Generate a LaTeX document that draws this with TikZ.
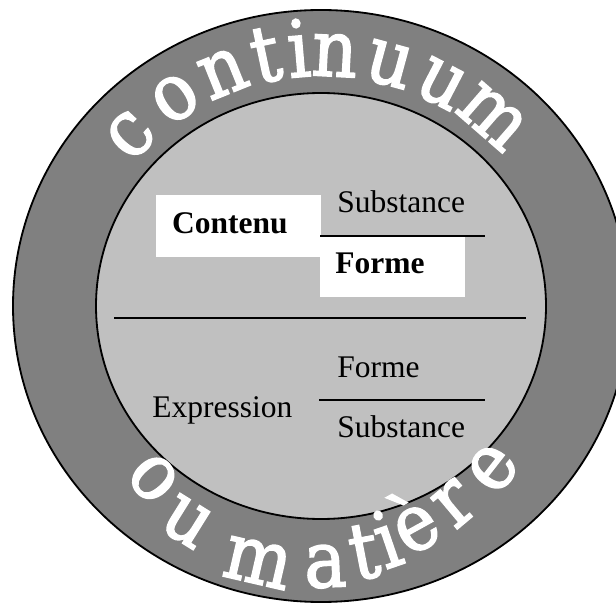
\documentclass[tikz,border=0pt]{standalone}
\usepackage{fontspec}
\setmainfont{Liberation Serif}
\newfontfamily\ringfont[FakeBold=2]{DejaVu Serif Condensed}
\definecolor{ringgray}{RGB}{128,128,128}
\definecolor{discgray}{RGB}{192,192,192}
\tikzset{
  ringletter/.style={text=white,anchor=base,inner sep=0pt,font=\ringfont\fontsize{56}{56}\selectfont},
  plantext/.style={anchor=base west,inner sep=0pt,font=\fontsize{22.4}{26}\selectfont},
  planbold/.style={anchor=base,inner sep=0pt,font=\fontsize{22.4}{26}\selectfont\bfseries},
}
\begin{document}
\begin{tikzpicture}[x=0.025cm,y=0.025cm]
\useasboundingbox (0,0) rectangle (616,605);

%outer ring, inner disc
\draw[line width=1.3pt,fill=ringgray] (321,299) ellipse (308 and 296);
\draw[line width=1.3pt,fill=discgray] (321,299) ellipse (225 and 213);

%contenu (upper half)
\fill[white] (156,410) rectangle (321,348);
\fill[white] (320,368) rectangle (465,308);
\node[plantext] (subsup) at (337,392) {Substance};
\draw[line width=1.3pt] (320,369) -- (485,369);
\node[planbold] (contenu) at (230,371) {Contenu};
\node[planbold,anchor=base west] (formesup) at (335,331) {Forme};

%divider
\draw[line width=1.3pt] (114,287) -- (526,287);

%expression (lower half)
\node[plantext] (formeinf) at (337,228) {Forme};
\draw[line width=1.3pt] (319,205) -- (485,205);
\node[plantext] (subinf) at (337,168) {Substance};
\node[plantext] (expression) at (152,188) {Expression};

%continuum, top arc
\begin{scope}[shift={(321,299)}]
\node[ringletter,rotate=47] (topc) at (137:240 and 230) {c};
\node[ringletter,rotate=34] (topo) at (124:240 and 230) {o};
\node[ringletter,rotate=22] (topn) at (112:240 and 230) {n};
\node[ringletter,rotate=12] (topt) at (102:240 and 230) {t};
\node[ringletter,rotate=4.8] (topi) at (94.8:240 and 230) {i};
\node[ringletter,rotate=-3] (topnn) at (87:240 and 230) {n};
\node[ringletter,rotate=-15.2] (topu) at (74.8:240 and 230) {u};
\node[ringletter,rotate=-27.5] (topuu) at (62.5:240 and 230) {u};
\node[ringletter,rotate=-41] (topm) at (49:240 and 230) {m};
\end{scope}

%ou matiere, bottom arc
\node[ringletter,rotate=-48] (boto) at (138,113) {o};
\node[ringletter,rotate=-32] (botu) at (176,66) {u};
\node[ringletter,rotate=-13] (botm) at (253,22) {m};
\node[ringletter,rotate=2] (bota) at (326,18) {a};
\node[ringletter,rotate=11] (bott) at (369,27) {t};
\node[ringletter,rotate=19] (boti) at (396,39) {i};
\node[ringletter,rotate=29] (bote) at (427,58) {è};
\node[ringletter,rotate=40] (botr) at (468,85) {r};
\node[ringletter,rotate=52] (botee) at (509,124) {e};

\end{tikzpicture}
\end{document}
